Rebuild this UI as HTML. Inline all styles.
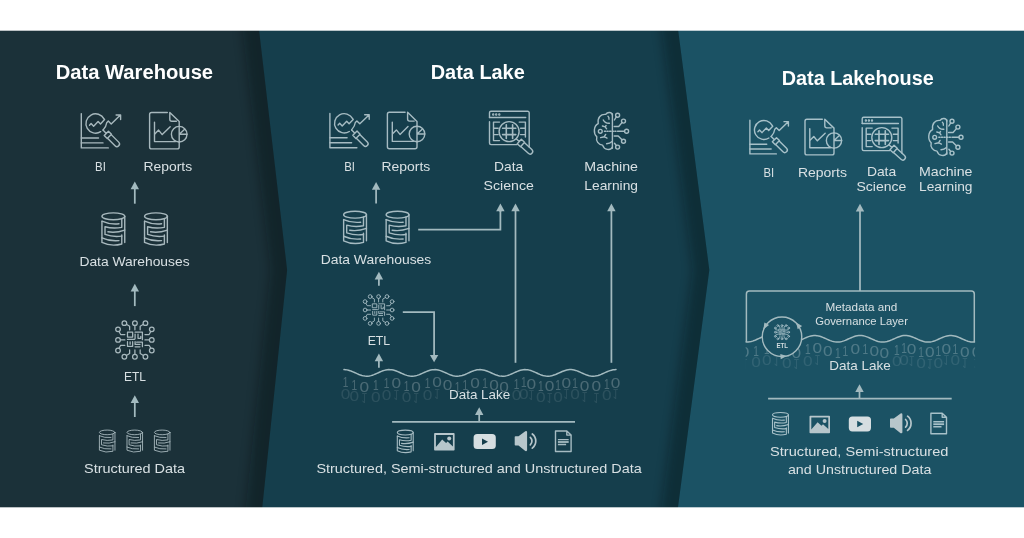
<!DOCTYPE html>
<html lang="en"><head><meta charset="utf-8"><title>Data Warehouse, Data Lake, Data Lakehouse</title>
<style>html,body{margin:0;padding:0;background:#fff;}body{width:1024px;height:538px;overflow:hidden;}</style></head>
<body>
<svg width="1024" height="538" viewBox="0 0 1024 538" font-family="'Liberation Sans', sans-serif" style="display:block;will-change:transform;transform:translateZ(0)">

<defs>
<filter id="blur" x="-50%" y="-10%" width="200%" height="120%"><feGaussianBlur stdDeviation="5.5"/></filter>
<linearGradient id="fade" x1="0" y1="0" x2="0" y2="1"><stop offset="0" stop-color="#fff" stop-opacity="0.16"/><stop offset="1" stop-color="#fff" stop-opacity="0"/></linearGradient>

<g id="bi" opacity="0.72" fill="none" stroke="#deecf0" stroke-linecap="round" stroke-linejoin="round">
 <path d="M5.3 5.6 V39.9 H32.3"/>
 <path d="M5.3 30 H22.5 M5.3 34.9 H27"/>
 <path d="M24.7 23.7 A9.65 9.65 0 1 1 28.2 11.1"/>
 <path d="M13.5 17.2 L15.1 15.5 L17.6 18.2 L22.1 13.5 L24.5 16 L28.6 11.6"/>
 <path d="M27 22.1 Q30.3 18.5 30.7 14.7 L32.3 13.1 L35.2 16 L44.4 7.1 M40.1 7 H44.6 V11.5"/>
 <g transform="translate(27 22.1) rotate(45)">
  <path d="M0 0 H4.7 M4.7 -3 H9 V3 H4.7 Z M9 -2.6 H19.6 A2.6 2.6 0 0 1 19.6 2.6 H9"/>
 </g>
</g>

<g id="rep" opacity="0.72" fill="none" stroke="#deecf0" stroke-linecap="round" stroke-linejoin="round">
 <path d="M23.3 4.5 H7.6 a2 2 0 0 0 -2 2 V38.9 a2 2 0 0 0 2 2 H33.2 a2 2 0 0 0 2 -2 V34"/>
 <path d="M35.2 18.4 V13.6 L25.8 4.5 V11.3 a2 2 0 0 0 2 2 H32.4"/>
 <path d="M10.5 14.3 V33.6 H31.5"/>
 <path d="M11 25.8 L14.6 22.1 L18.2 26.6 L26.2 18.8"/>
 <circle cx="35.2" cy="26.2" r="7.8"/>
 <path d="M35.2 18.4 V34 M35.2 26.2 H43 M35.2 26.2 L40.4 21.4"/>
</g>

<g id="ds" opacity="0.72" fill="none" stroke="#deecf0" stroke-linecap="round" stroke-linejoin="round">
 <path d="M33.1 38.6 H7 a1.5 1.5 0 0 1 -1.5 -1.5 V15.8 M5.5 11.5 V6.7 a1.5 1.5 0 0 1 1.5 -1.5 H43.7 a1.5 1.5 0 0 1 1.5 1.5 V41"/>
 <path d="M5.5 11.5 H41.7"/>
 <circle cx="9.2" cy="8.5" r="0.5"/><circle cx="12.2" cy="8.5" r="0.5"/><circle cx="15.3" cy="8.5" r="0.5"/>
 <path d="M15.5 16.1 H9.5 V34.6 H15.5 M9.5 22.3 H14.2 M9.5 28.6 H14.2"/>
 <path d="M35.2 16.1 H41.4 V31 M36.6 22.3 H41.4 M36.6 28.6 H41.4"/>
 <circle cx="25.1" cy="25.6" r="10"/>
 <path d="M22.3 18.8 V32.4 M28.6 18.8 V32.4 M18.6 22.3 H31.8 M18.6 28.6 H31.8" stroke-width="1.6"/>
 <g transform="translate(32.2 32.7) rotate(42.5)">
  <path d="M0 0 H4.2 M4.2 -3 H8.6 V3 H4.2 Z M8.6 -2.6 H18.8 A2.6 2.6 0 0 1 18.8 2.6 H8.6"/>
 </g>
</g>

<g id="ml" opacity="0.72" fill="none" stroke="#deecf0" stroke-linecap="round" stroke-linejoin="round">
 <path d="M24.4 7.9 V42.3"/>
 <path d="M24.4 9 C24 6 19.5 5.6 17.7 8.4 C13 7.8 9.2 11.5 10.2 17.7 C5.5 20 5.2 27.5 8.8 30.7 C7.6 35 10.5 38.8 14.6 39.1 C16 43.8 22.5 45.2 24.4 41"/>
 <circle cx="29.6" cy="9.3" r="2"/><circle cx="35.5" cy="15.1" r="2"/><circle cx="38.6" cy="25.3" r="2"/><circle cx="35.5" cy="35.3" r="2"/><circle cx="29.6" cy="41.1" r="2"/>
 <circle cx="12.3" cy="25.3" r="1.9"/>
 <path d="M28.3 10.9 L26.4 14 M34 16.6 L30.7 20.5 H26.2 M36.5 25.3 H29.5 M34 33.8 L30.2 30 H26.2 M28.3 39.5 L26.5 37.2"/>
 <path d="M28 25.3 H15" stroke-dasharray="1.2 1.4"/>
 <path d="M15.3 14 Q17 17.5 21.4 17.2 M20 10.2 Q21.4 11.5 20.9 13.2 M14.4 20 L17.2 20.9 L18.6 22.8 M17.2 20.9 L18.1 19.5 M12.6 31.6 L16.3 30.7 L19 32.1 M16.3 30.7 L17.7 28.4 M18.6 37.7 Q22 37.5 23.7 35.8"/>
</g>

<g id="db" opacity="0.72" fill="none" stroke="#deecf0" stroke-linecap="round" stroke-linejoin="round">
 <ellipse cx="12.15" cy="3.9" rx="11.7" ry="3.5"/>
 <path d="M23.85 3.9 V30.7"/>
 <path d="M0.45 8.9 V30.7 Q10 35.3 20.8 32.3 V22.9"/>
 <path d="M0.45 8.9 Q8 12.5 17.9 11.6"/>
 <path d="M20.8 6.3 V15.2 Q12 17 3.6 14.6 V22.5 Q12 25.5 20.8 24.2"/>
 <path d="M23.85 18 Q15 21.2 6.6 19.8"/>
 <path d="M0.45 26 Q8 29.6 17.9 28.8"/>
</g>

<g id="etl" opacity="0.72" fill="none" stroke="#deecf0" stroke-linecap="round" stroke-linejoin="round">
 <circle cx="-10.8" cy="-17.2" r="2.4"/><circle cx="0" cy="-17.2" r="2.4"/><circle cx="10.8" cy="-17.2" r="2.4"/>
 <circle cx="-10.8" cy="17.2" r="2.4"/><circle cx="0" cy="17.2" r="2.4"/><circle cx="10.8" cy="17.2" r="2.4"/>
 <circle cx="-17.3" cy="-10.8" r="2.4"/><circle cx="-17.3" cy="0" r="2.4"/><circle cx="-17.3" cy="10.8" r="2.4"/>
 <circle cx="17.3" cy="-10.8" r="2.4"/><circle cx="17.3" cy="0" r="2.4"/><circle cx="17.3" cy="10.8" r="2.4"/>
 <path d="M-8.7 -16 L-5.4 -14 V-10.3 M0 -14.8 V-10.3 M8.7 -16 L5.4 -14 V-10.3"/>
 <path d="M-8.7 16 L-5.4 14 V10.3 M0 14.8 V10.3 M8.7 16 L5.4 14 V10.3"/>
 <path d="M-16.3 -8.6 L-14.6 -5.5 H-10.3 M-14.9 0 H-10.3 M-16.3 8.6 L-14.6 5.5 H-10.3"/>
 <path d="M16.3 -8.6 L14.6 -5.5 H10.3 M14.9 0 H10.3 M16.3 8.6 L14.6 5.5 H10.3"/>
 <path d="M-7.6 -7.9 H-2.3 V-2.9 H-7.6 Z M0.2 -7.9 H7.7 V-0.2 M3.2 -6 V-1.6 H6 V-3.7 M0.2 -6 V-1.8 Q0.2 -0.5 -1.1 -0.5 H-7.6 M-7.6 1.8 V6.6 H-2.3 V1.8 M-4.9 2 V4.4 M0.2 1.8 V4.6 H5.2 M1.8 2.4 H7.7 V6.9 M0.2 7.1 H5.2"/>
</g>

<g id="img">
 <path fill="#b7c6cb" fill-rule="evenodd" d="M0.8 0 H19.7 a0.8 0.8 0 0 1 0.8 0.8 V16.7 a0.8 0.8 0 0 1 -0.8 0.8 H0.8 a0.8 0.8 0 0 1 -0.8 -0.8 V0.8 a0.8 0.8 0 0 1 0.8 -0.8 Z M1.8 1.8 V13.9 L8.1 6.5 L12 10 L13.5 8.5 L18.8 13.4 V1.8 Z"/>
 <circle cx="15.1" cy="5.3" r="2" fill="#b7c6cb"/>
</g>

<g id="vid">
 <rect x="0" y="0" width="22.2" height="15" rx="3.6" fill="#d6dee1"/>
</g>

<g id="spk">
 <path fill="#b7c6cb" d="M0 6 a0.8 0.8 0 0 1 0.8 -0.8 L3.8 5.2 L10.6 0.2 Q12.4 -0.3 12.4 1.2 V19 Q12.4 20.5 10.6 20 L3.8 14.6 H0.8 a0.8 0.8 0 0 1 -0.8 -0.8 Z"/>
 <path fill="none" stroke="#b7c6cb" stroke-width="1.7" stroke-linecap="round" d="M15.6 6.3 A5.2 5.2 0 0 1 15.6 13.9 M17.6 3 A9 9 0 0 1 17.6 17.2"/>
</g>

<g id="doc" opacity="0.72" fill="none" stroke="#deecf0" stroke-linejoin="round">
 <path d="M0.6 0.6 H11.9 L16.2 4.7 V21.1 H0.6 Z M11.9 0.6 V4.7 H16.2"/>
 <path d="M3 9.2 H13.8 M3 14.1 H11.2"/>
 <path d="M3 11.6 H13.8" stroke-width="1.8"/>
</g>
</defs>

<rect width="1024" height="538" fill="#fff"/>
<rect x="0" y="20" width="1024" height="497" fill="#153e4c"/>
<polygon points="676.8,20 678.2,30.7 709.3,270 678,507 676.7,517 1024,517 1024,20" fill="#1b5264"/>
<clipPath id="cpA"><polygon points="0,20 257.85,20 259.1,30.7 287.1,270 262.3,507 261.25,517 0,517"/></clipPath>
<clipPath id="cpB"><polygon points="300,20 676.8,20 678.2,30.7 709.3,270 678,507 676.7,517 300,517"/></clipPath>
<g clip-path="url(#cpB)"><polygon points="660.30,20 661.70,30.7 692.80,270 661.50,507 660.20,517 800,517 800,600 800,-60" fill="#000a10" opacity="0.32" filter="url(#blur)"/></g>
<polygon points="0,20 257.85,20 259.1,30.7 287.1,270 262.3,507 261.25,517 0,517" fill="#1b3139"/>
<g clip-path="url(#cpA)"><polygon points="241.35,20 242.60,30.7 270.60,270 245.80,507 244.75,517 400,517 400,600 400,-60" fill="#000a10" opacity="0.33" filter="url(#blur)"/></g>
<rect x="0" y="0" width="1024" height="30.7" fill="#fff"/>
<rect x="0" y="507.3" width="1024" height="31" fill="#fff"/>
<text x="55.70" y="79.0" font-size="19.5" font-weight="bold" fill="#fff" textLength="157.41" lengthAdjust="spacingAndGlyphs">Data Warehouse</text>
<g transform="translate(76.00 108.00) scale(1.0000)" stroke-width="1.400"><use href="#bi"/></g>
<g transform="translate(144.00 108.00) scale(1.0000)" stroke-width="1.400"><use href="#rep"/></g>
<text x="95.10" y="171.0" font-size="13.3" font-weight="normal" fill="#d8e0e3" textLength="10.80" lengthAdjust="spacingAndGlyphs">BI</text>
<text x="143.50" y="171.0" font-size="13.3" font-weight="normal" fill="#d8e0e3" textLength="48.61" lengthAdjust="spacingAndGlyphs">Reports</text>
<path d="M134.8 203.7 V188.7" stroke="#a3babf" stroke-width="1.75" fill="none"/>
<path d="M134.8 181.4 L139.0 189.2 H130.6 Z" fill="#a3babf"/>
<g transform="translate(101.50 212.50) scale(0.9750)" stroke-width="1.436"><use href="#db"/></g>
<g transform="translate(144.10 212.50) scale(0.9750)" stroke-width="1.436"><use href="#db"/></g>
<text x="79.40" y="266.0" font-size="13.3" font-weight="normal" fill="#d8e0e3" textLength="110.20" lengthAdjust="spacingAndGlyphs">Data Warehouses</text>
<path d="M134.8 306.1 V291.0" stroke="#a3babf" stroke-width="1.75" fill="none"/>
<path d="M134.8 283.7 L139.0 291.5 H130.6 Z" fill="#a3babf"/>
<g transform="translate(134.90 339.90) scale(0.9750)" stroke-width="1.282"><use href="#etl"/></g>
<text x="124.00" y="381.0" font-size="13.3" font-weight="normal" fill="#d8e0e3" textLength="22.00" lengthAdjust="spacingAndGlyphs">ETL</text>
<path d="M134.8 417.0 V402.6" stroke="#a3babf" stroke-width="1.75" fill="none"/>
<path d="M134.8 395.3 L139.0 403.1 H130.6 Z" fill="#a3babf"/>
<g transform="translate(99.10 429.80) scale(0.6650)" stroke-width="1.353"><use href="#db"/></g>
<g transform="translate(126.70 429.80) scale(0.6650)" stroke-width="1.353"><use href="#db"/></g>
<g transform="translate(154.10 429.80) scale(0.6650)" stroke-width="1.353"><use href="#db"/></g>
<text x="84.00" y="473.0" font-size="13.3" font-weight="normal" fill="#d8e0e3" textLength="101.09" lengthAdjust="spacingAndGlyphs">Structured Data</text>
<text x="430.70" y="79.0" font-size="19.5" font-weight="bold" fill="#fff" textLength="94.09" lengthAdjust="spacingAndGlyphs">Data Lake</text>
<g transform="translate(324.60 107.80) scale(1.0000)" stroke-width="1.400"><use href="#bi"/></g>
<g transform="translate(381.80 107.80) scale(1.0000)" stroke-width="1.400"><use href="#rep"/></g>
<text x="344.20" y="171.0" font-size="13.3" font-weight="normal" fill="#d8e0e3" textLength="10.80" lengthAdjust="spacingAndGlyphs">BI</text>
<text x="381.50" y="171.0" font-size="13.3" font-weight="normal" fill="#d8e0e3" textLength="48.81" lengthAdjust="spacingAndGlyphs">Reports</text>
<g transform="translate(484.00 106.00) scale(1.0000)" stroke-width="1.400"><use href="#ds"/></g>
<text x="494.10" y="171.0" font-size="13.3" font-weight="normal" fill="#d8e0e3" textLength="29.19" lengthAdjust="spacingAndGlyphs">Data</text>
<text x="483.60" y="190.0" font-size="13.3" font-weight="normal" fill="#d8e0e3" textLength="50.29" lengthAdjust="spacingAndGlyphs">Science</text>
<g transform="translate(588.00 106.00) scale(1.0000)" stroke-width="1.400"><use href="#ml"/></g>
<text x="584.30" y="171.0" font-size="13.3" font-weight="normal" fill="#d8e0e3" textLength="53.70" lengthAdjust="spacingAndGlyphs">Machine</text>
<text x="584.30" y="190.0" font-size="13.3" font-weight="normal" fill="#d8e0e3" textLength="53.70" lengthAdjust="spacingAndGlyphs">Learning</text>
<path d="M376.1 203.5 V189.3" stroke="#a3babf" stroke-width="1.75" fill="none"/>
<path d="M376.1 182.0 L380.3 189.8 H371.9 Z" fill="#a3babf"/>
<g transform="translate(343.20 210.90) scale(0.9750)" stroke-width="1.436"><use href="#db"/></g>
<g transform="translate(385.70 210.90) scale(0.9750)" stroke-width="1.436"><use href="#db"/></g>
<path d="M418.2 229.7 H500.4 V211" stroke="#a3babf" stroke-width="1.75" fill="none"/>
<path d="M500.4 212.0 V210.8" stroke="#a3babf" stroke-width="1.75" fill="none"/>
<path d="M500.4 203.5 L504.6 211.3 H496.2 Z" fill="#a3babf"/>
<path d="M515.5 362.8 V210.8" stroke="#a3babf" stroke-width="1.75" fill="none"/>
<path d="M515.5 203.5 L519.7 211.3 H511.3 Z" fill="#a3babf"/>
<path d="M611.4 362.8 V210.8" stroke="#a3babf" stroke-width="1.75" fill="none"/>
<path d="M611.4 203.5 L615.6 211.3 H607.2 Z" fill="#a3babf"/>
<text x="320.70" y="264.0" font-size="13.3" font-weight="normal" fill="#d8e0e3" textLength="110.60" lengthAdjust="spacingAndGlyphs">Data Warehouses</text>
<path d="M378.9 285.7 V279.1" stroke="#a3babf" stroke-width="1.75" fill="none"/>
<path d="M378.9 271.8 L383.1 279.6 H374.7 Z" fill="#a3babf"/>
<g transform="translate(378.60 310.00) scale(0.7800)" stroke-width="1.154"><use href="#etl"/></g>
<path d="M402.8 312.1 H434.1 V356" stroke="#a3babf" stroke-width="1.75" fill="none"/>
<path d="M434.1 362.2 L438.3 354.9 H429.9 Z" fill="#a3babf"/>
<text x="367.70" y="345.0" font-size="13.3" font-weight="normal" fill="#d8e0e3" textLength="22.50" lengthAdjust="spacingAndGlyphs">ETL</text>
<path d="M378.9 367.8 V360.7" stroke="#a3babf" stroke-width="1.75" fill="none"/>
<path d="M378.9 353.4 L383.1 361.2 H374.7 Z" fill="#a3babf"/>
<g>
<g font-size="15" fill="rgba(255,255,255,0.23)"><text x="342.70" y="387.25" textLength="5.60" lengthAdjust="spacingAndGlyphs">1</text><text x="351.50" y="389.60" textLength="5.60" lengthAdjust="spacingAndGlyphs">1</text><text x="359.50" y="391.59" textLength="9.60" lengthAdjust="spacingAndGlyphs">0</text><text x="373.00" y="389.92" textLength="5.60" lengthAdjust="spacingAndGlyphs">1</text><text x="383.70" y="387.96" textLength="5.60" lengthAdjust="spacingAndGlyphs">1</text><text x="391.50" y="388.41" textLength="9.60" lengthAdjust="spacingAndGlyphs">0</text><text x="403.70" y="390.83" textLength="5.60" lengthAdjust="spacingAndGlyphs">1</text><text x="411.20" y="391.68" textLength="9.60" lengthAdjust="spacingAndGlyphs">0</text><text x="424.70" y="388.44" textLength="5.60" lengthAdjust="spacingAndGlyphs">1</text><text x="432.20" y="387.32" textLength="9.60" lengthAdjust="spacingAndGlyphs">0</text><text x="442.70" y="390.36" textLength="9.60" lengthAdjust="spacingAndGlyphs">0</text><text x="454.80" y="391.70" textLength="5.60" lengthAdjust="spacingAndGlyphs">1</text><text x="462.40" y="390.25" textLength="5.60" lengthAdjust="spacingAndGlyphs">1</text><text x="470.30" y="388.25" textLength="9.60" lengthAdjust="spacingAndGlyphs">0</text><text x="482.20" y="388.00" textLength="5.60" lengthAdjust="spacingAndGlyphs">1</text><text x="489.20" y="390.09" textLength="9.60" lengthAdjust="spacingAndGlyphs">0</text><text x="499.20" y="391.96" textLength="9.60" lengthAdjust="spacingAndGlyphs">0</text><text x="513.70" y="388.85" textLength="5.60" lengthAdjust="spacingAndGlyphs">1</text><text x="521.00" y="387.24" textLength="5.60" lengthAdjust="spacingAndGlyphs">1</text><text x="526.50" y="388.51" textLength="9.60" lengthAdjust="spacingAndGlyphs">0</text><text x="538.10" y="390.80" textLength="5.60" lengthAdjust="spacingAndGlyphs">1</text><text x="544.80" y="391.34" textLength="9.60" lengthAdjust="spacingAndGlyphs">0</text><text x="555.20" y="390.24" textLength="5.60" lengthAdjust="spacingAndGlyphs">1</text><text x="561.40" y="387.86" textLength="9.60" lengthAdjust="spacingAndGlyphs">0</text><text x="572.30" y="387.61" textLength="5.60" lengthAdjust="spacingAndGlyphs">1</text><text x="579.70" y="390.66" textLength="9.60" lengthAdjust="spacingAndGlyphs">0</text><text x="591.60" y="391.49" textLength="9.60" lengthAdjust="spacingAndGlyphs">0</text><text x="604.00" y="388.63" textLength="5.60" lengthAdjust="spacingAndGlyphs">1</text><text x="610.80" y="387.80" textLength="9.60" lengthAdjust="spacingAndGlyphs">0</text></g>
<g font-size="15" fill="rgba(255,255,255,0.10)" transform="scale(1 -1)"><text x="340.70" y="-388.85" textLength="9.60" lengthAdjust="spacingAndGlyphs">0</text><text x="349.50" y="-391.20" textLength="9.60" lengthAdjust="spacingAndGlyphs">0</text><text x="361.50" y="-393.19" textLength="5.60" lengthAdjust="spacingAndGlyphs">1</text><text x="371.00" y="-391.52" textLength="9.60" lengthAdjust="spacingAndGlyphs">0</text><text x="381.70" y="-389.56" textLength="9.60" lengthAdjust="spacingAndGlyphs">0</text><text x="393.50" y="-390.01" textLength="5.60" lengthAdjust="spacingAndGlyphs">1</text><text x="401.70" y="-392.43" textLength="9.60" lengthAdjust="spacingAndGlyphs">0</text><text x="413.20" y="-393.28" textLength="5.60" lengthAdjust="spacingAndGlyphs">1</text><text x="422.70" y="-390.04" textLength="9.60" lengthAdjust="spacingAndGlyphs">0</text><text x="434.20" y="-388.92" textLength="5.60" lengthAdjust="spacingAndGlyphs">1</text><text x="511.70" y="-390.45" textLength="9.60" lengthAdjust="spacingAndGlyphs">0</text><text x="519.00" y="-388.84" textLength="9.60" lengthAdjust="spacingAndGlyphs">0</text><text x="528.50" y="-390.11" textLength="5.60" lengthAdjust="spacingAndGlyphs">1</text><text x="536.10" y="-392.40" textLength="9.60" lengthAdjust="spacingAndGlyphs">0</text><text x="546.80" y="-392.94" textLength="5.60" lengthAdjust="spacingAndGlyphs">1</text><text x="553.20" y="-391.84" textLength="9.60" lengthAdjust="spacingAndGlyphs">0</text><text x="563.40" y="-389.46" textLength="5.60" lengthAdjust="spacingAndGlyphs">1</text><text x="570.30" y="-389.21" textLength="9.60" lengthAdjust="spacingAndGlyphs">0</text><text x="581.70" y="-392.26" textLength="5.60" lengthAdjust="spacingAndGlyphs">1</text><text x="593.60" y="-393.09" textLength="5.60" lengthAdjust="spacingAndGlyphs">1</text><text x="602.00" y="-390.23" textLength="9.60" lengthAdjust="spacingAndGlyphs">0</text><text x="612.80" y="-389.40" textLength="5.60" lengthAdjust="spacingAndGlyphs">1</text></g>
<path d="M344.0 369.60 L345.5 369.67 L347.0 369.88 L348.5 370.22 L350.0 370.67 L351.5 371.22 L353.0 371.84 L354.5 372.51 L356.0 373.19 L357.5 373.86 L358.9 374.49 L360.4 375.05 L361.9 375.52 L363.4 375.88 L364.9 376.11 L366.4 376.20 L367.9 376.15 L369.4 375.96 L370.9 375.64 L372.4 375.21 L373.9 374.67 L375.4 374.06 L376.9 373.40 L378.4 372.72 L379.9 372.04 L381.4 371.41 L382.9 370.83 L384.4 370.35 L385.8 369.97 L387.3 369.72 L388.8 369.61 L390.3 369.63 L391.8 369.80 L393.3 370.10 L394.8 370.52 L396.3 371.04 L397.8 371.64 L399.3 372.30 L400.8 372.98 L402.3 373.65 L403.8 374.30 L405.3 374.88 L406.8 375.38 L408.3 375.78 L409.8 376.05 L411.3 376.18 L412.7 376.18 L414.2 376.03 L415.7 375.76 L417.2 375.35 L418.7 374.85 L420.2 374.26 L421.7 373.61 L423.2 372.93 L424.7 372.25 L426.2 371.60 L427.7 371.00 L429.2 370.49 L430.7 370.08 L432.2 369.78 L433.7 369.63 L435.2 369.61 L436.7 369.73 L438.2 369.99 L439.6 370.38 L441.1 370.87 L442.6 371.45 L444.1 372.09 L445.6 372.76 L447.1 373.44 L448.6 374.10 L450.1 374.71 L451.6 375.24 L453.1 375.67 L454.6 375.98 L456.1 376.16 L457.6 376.20 L459.1 376.09 L460.6 375.86 L462.1 375.49 L463.6 375.01 L465.1 374.45 L466.5 373.81 L468.0 373.14 L469.5 372.46 L471.0 371.80 L472.5 371.18 L474.0 370.64 L475.5 370.19 L477.0 369.86 L478.5 369.66 L480.0 369.60 L481.5 369.68 L483.0 369.90 L484.5 370.24 L486.0 370.70 L487.5 371.26 L489.0 371.88 L490.5 372.55 L492.0 373.23 L493.5 373.90 L494.9 374.53 L496.4 375.08 L497.9 375.55 L499.4 375.90 L500.9 376.12 L502.4 376.20 L503.9 376.14 L505.4 375.94 L506.9 375.62 L508.4 375.17 L509.9 374.63 L511.4 374.02 L512.9 373.35 L514.4 372.67 L515.9 372.00 L517.4 371.37 L518.9 370.80 L520.4 370.32 L521.8 369.95 L523.3 369.71 L524.8 369.60 L526.3 369.64 L527.8 369.82 L529.3 370.12 L530.8 370.55 L532.3 371.08 L533.8 371.68 L535.3 372.34 L536.8 373.02 L538.3 373.70 L539.8 374.34 L541.3 374.92 L542.8 375.41 L544.3 375.80 L545.8 376.06 L547.3 376.19 L548.7 376.17 L550.2 376.02 L551.7 375.73 L553.2 375.32 L554.7 374.81 L556.2 374.22 L557.7 373.56 L559.2 372.88 L560.7 372.21 L562.2 371.56 L563.7 370.97 L565.2 370.46 L566.7 370.05 L568.2 369.77 L569.7 369.62 L571.2 369.61 L572.7 369.75 L574.2 370.01 L575.6 370.41 L577.1 370.90 L578.6 371.49 L580.1 372.13 L581.6 372.81 L583.1 373.49 L584.6 374.15 L586.1 374.75 L587.6 375.27 L589.1 375.69 L590.6 375.99 L592.1 376.16 L593.6 376.19 L595.1 376.08 L596.6 375.84 L598.1 375.46 L599.6 374.98 L601.1 374.41 L602.5 373.77 L604.0 373.10 L605.5 372.42 L607.0 371.75 L608.5 371.14 L610.0 370.60 L611.5 370.17 L613.0 369.84 L614.5 369.65 L616.0 369.60" stroke="#a3babf" stroke-width="1.5" fill="none" stroke-linecap="round"/>
</g>
<text x="449.10" y="399.0" font-size="13.3" font-weight="normal" fill="#d8e0e3" textLength="61.09" lengthAdjust="spacingAndGlyphs">Data Lake</text>
<path d="M392.1 421.9 H575" stroke="#a3babf" stroke-width="1.75" fill="none"/>
<path d="M479.2 421.9 V414.5" stroke="#a3babf" stroke-width="1.75" fill="none"/>
<path d="M479.2 407.2 L483.4 415.0 H475.0 Z" fill="#a3babf"/>
<g transform="translate(397.00 429.90) scale(0.6800)" stroke-width="1.618"><use href="#db"/></g>
<g transform="translate(434.10 433.10) scale(1.0000)" stroke-width="1.400"><use href="#img"/></g>
<g transform="translate(473.60 434.10) scale(1.0000)" stroke-width="1.400"><use href="#vid"/></g>
<path d="M482 438.4 V445 L488 441.7 Z" fill="#153e4c"/>
<g transform="translate(514.70 431.00) scale(1.0000)" stroke-width="1.400"><use href="#spk"/></g>
<g transform="translate(554.90 430.40) scale(1.0000)" stroke-width="1.400"><use href="#doc"/></g>
<text x="316.40" y="473.0" font-size="13.3" font-weight="normal" fill="#d8e0e3" textLength="325.39" lengthAdjust="spacingAndGlyphs">Structured, Semi-structured and Unstructured Data</text>
<text x="781.70" y="85.0" font-size="19.5" font-weight="bold" fill="#fff" textLength="152.11" lengthAdjust="spacingAndGlyphs">Data Lakehouse</text>
<g transform="translate(744.70 114.80) scale(0.9800)" stroke-width="1.429"><use href="#bi"/></g>
<g transform="translate(799.50 114.80) scale(0.9800)" stroke-width="1.429"><use href="#rep"/></g>
<g transform="translate(856.70 112.00) scale(1.0000)" stroke-width="1.400"><use href="#ds"/></g>
<g transform="translate(922.40 112.00) scale(1.0000)" stroke-width="1.400"><use href="#ml"/></g>
<text x="763.50" y="177.0" font-size="13.3" font-weight="normal" fill="#d8e0e3" textLength="10.70" lengthAdjust="spacingAndGlyphs">BI</text>
<text x="797.90" y="177.0" font-size="13.3" font-weight="normal" fill="#d8e0e3" textLength="49.01" lengthAdjust="spacingAndGlyphs">Reports</text>
<text x="866.90" y="176.0" font-size="13.3" font-weight="normal" fill="#d8e0e3" textLength="29.29" lengthAdjust="spacingAndGlyphs">Data</text>
<text x="856.50" y="191.0" font-size="13.3" font-weight="normal" fill="#d8e0e3" textLength="49.89" lengthAdjust="spacingAndGlyphs">Science</text>
<text x="919.00" y="176.0" font-size="13.3" font-weight="normal" fill="#d8e0e3" textLength="53.50" lengthAdjust="spacingAndGlyphs">Machine</text>
<text x="919.00" y="191.0" font-size="13.3" font-weight="normal" fill="#d8e0e3" textLength="53.50" lengthAdjust="spacingAndGlyphs">Learning</text>
<path d="M860.0 291.0 V211.1" stroke="#a3babf" stroke-width="1.75" fill="none"/>
<path d="M860.0 203.8 L864.2 211.6 H855.8 Z" fill="#a3babf"/>
<clipPath id="cpL"><rect x="745.6" y="320" width="229.5" height="60"/></clipPath>
<g clip-path="url(#cpL)">
<g font-size="15" fill="rgba(255,255,255,0.23)"><text x="722.90" y="353.15" textLength="5.60" lengthAdjust="spacingAndGlyphs">1</text><text x="731.70" y="355.50" textLength="5.60" lengthAdjust="spacingAndGlyphs">1</text><text x="739.70" y="357.49" textLength="9.60" lengthAdjust="spacingAndGlyphs">0</text><text x="753.20" y="355.82" textLength="5.60" lengthAdjust="spacingAndGlyphs">1</text><text x="763.90" y="353.86" textLength="5.60" lengthAdjust="spacingAndGlyphs">1</text><text x="771.70" y="354.31" textLength="9.60" lengthAdjust="spacingAndGlyphs">0</text><text x="783.90" y="356.73" textLength="5.60" lengthAdjust="spacingAndGlyphs">1</text><text x="791.40" y="357.58" textLength="9.60" lengthAdjust="spacingAndGlyphs">0</text><text x="804.90" y="354.34" textLength="5.60" lengthAdjust="spacingAndGlyphs">1</text><text x="812.40" y="353.22" textLength="9.60" lengthAdjust="spacingAndGlyphs">0</text><text x="822.90" y="356.26" textLength="9.60" lengthAdjust="spacingAndGlyphs">0</text><text x="835.00" y="357.60" textLength="5.60" lengthAdjust="spacingAndGlyphs">1</text><text x="842.60" y="356.15" textLength="5.60" lengthAdjust="spacingAndGlyphs">1</text><text x="850.50" y="354.15" textLength="9.60" lengthAdjust="spacingAndGlyphs">0</text><text x="862.40" y="353.90" textLength="5.60" lengthAdjust="spacingAndGlyphs">1</text><text x="869.40" y="355.99" textLength="9.60" lengthAdjust="spacingAndGlyphs">0</text><text x="879.40" y="357.86" textLength="9.60" lengthAdjust="spacingAndGlyphs">0</text><text x="893.90" y="354.75" textLength="5.60" lengthAdjust="spacingAndGlyphs">1</text><text x="901.20" y="353.14" textLength="5.60" lengthAdjust="spacingAndGlyphs">1</text><text x="906.70" y="354.41" textLength="9.60" lengthAdjust="spacingAndGlyphs">0</text><text x="918.30" y="356.70" textLength="5.60" lengthAdjust="spacingAndGlyphs">1</text><text x="925.00" y="357.24" textLength="9.60" lengthAdjust="spacingAndGlyphs">0</text><text x="935.40" y="356.14" textLength="5.60" lengthAdjust="spacingAndGlyphs">1</text><text x="941.60" y="353.76" textLength="9.60" lengthAdjust="spacingAndGlyphs">0</text><text x="952.50" y="353.51" textLength="5.60" lengthAdjust="spacingAndGlyphs">1</text><text x="959.90" y="356.56" textLength="9.60" lengthAdjust="spacingAndGlyphs">0</text><text x="971.80" y="357.39" textLength="9.60" lengthAdjust="spacingAndGlyphs">0</text><text x="984.20" y="354.53" textLength="5.60" lengthAdjust="spacingAndGlyphs">1</text><text x="991.00" y="353.70" textLength="9.60" lengthAdjust="spacingAndGlyphs">0</text></g>
<g font-size="15" fill="rgba(255,255,255,0.10)" transform="scale(1 -1)"><text x="720.90" y="-354.75" textLength="9.60" lengthAdjust="spacingAndGlyphs">0</text><text x="729.70" y="-357.10" textLength="9.60" lengthAdjust="spacingAndGlyphs">0</text><text x="741.70" y="-359.09" textLength="5.60" lengthAdjust="spacingAndGlyphs">1</text><text x="751.20" y="-357.42" textLength="9.60" lengthAdjust="spacingAndGlyphs">0</text><text x="761.90" y="-355.46" textLength="9.60" lengthAdjust="spacingAndGlyphs">0</text><text x="773.70" y="-355.91" textLength="5.60" lengthAdjust="spacingAndGlyphs">1</text><text x="781.90" y="-358.33" textLength="9.60" lengthAdjust="spacingAndGlyphs">0</text><text x="793.40" y="-359.18" textLength="5.60" lengthAdjust="spacingAndGlyphs">1</text><text x="802.90" y="-355.94" textLength="9.60" lengthAdjust="spacingAndGlyphs">0</text><text x="814.40" y="-354.82" textLength="5.60" lengthAdjust="spacingAndGlyphs">1</text><text x="891.90" y="-356.35" textLength="9.60" lengthAdjust="spacingAndGlyphs">0</text><text x="899.20" y="-354.74" textLength="9.60" lengthAdjust="spacingAndGlyphs">0</text><text x="908.70" y="-356.01" textLength="5.60" lengthAdjust="spacingAndGlyphs">1</text><text x="916.30" y="-358.30" textLength="9.60" lengthAdjust="spacingAndGlyphs">0</text><text x="927.00" y="-358.84" textLength="5.60" lengthAdjust="spacingAndGlyphs">1</text><text x="933.40" y="-357.74" textLength="9.60" lengthAdjust="spacingAndGlyphs">0</text><text x="943.60" y="-355.36" textLength="5.60" lengthAdjust="spacingAndGlyphs">1</text><text x="950.50" y="-355.11" textLength="9.60" lengthAdjust="spacingAndGlyphs">0</text><text x="961.90" y="-358.16" textLength="5.60" lengthAdjust="spacingAndGlyphs">1</text><text x="973.80" y="-358.99" textLength="5.60" lengthAdjust="spacingAndGlyphs">1</text><text x="982.20" y="-356.13" textLength="9.60" lengthAdjust="spacingAndGlyphs">0</text><text x="993.00" y="-355.30" textLength="5.60" lengthAdjust="spacingAndGlyphs">1</text></g>
<path d="M724.2 335.50 L725.7 335.57 L727.2 335.78 L728.7 336.12 L730.2 336.57 L731.7 337.12 L733.2 337.74 L734.7 338.41 L736.2 339.09 L737.7 339.76 L739.1 340.39 L740.6 340.95 L742.1 341.42 L743.6 341.78 L745.1 342.01 L746.6 342.10 L748.1 342.05 L749.6 341.86 L751.1 341.54 L752.6 341.11 L754.1 340.57 L755.6 339.96 L757.1 339.30 L758.6 338.62 L760.1 337.94 L761.6 337.31 L763.1 336.73 L764.6 336.25 L766.0 335.87 L767.5 335.62 L769.0 335.51 L770.5 335.53 L772.0 335.70 L773.5 336.00 L775.0 336.42 L776.5 336.94 L778.0 337.54 L779.5 338.20 L781.0 338.88 L782.5 339.55 L784.0 340.20 L785.5 340.78 L787.0 341.28 L788.5 341.68 L790.0 341.95 L791.5 342.08 L792.9 342.08 L794.4 341.93 L795.9 341.66 L797.4 341.25 L798.9 340.75 L800.4 340.16 L801.9 339.51 L803.4 338.83 L804.9 338.15 L806.4 337.50 L807.9 336.90 L809.4 336.39 L810.9 335.98 L812.4 335.68 L813.9 335.53 L815.4 335.51 L816.9 335.63 L818.4 335.89 L819.8 336.28 L821.3 336.77 L822.8 337.35 L824.3 337.99 L825.8 338.66 L827.3 339.34 L828.8 340.00 L830.3 340.61 L831.8 341.14 L833.3 341.57 L834.8 341.88 L836.3 342.06 L837.8 342.10 L839.3 341.99 L840.8 341.76 L842.3 341.39 L843.8 340.91 L845.3 340.35 L846.7 339.71 L848.2 339.04 L849.7 338.36 L851.2 337.70 L852.7 337.08 L854.2 336.54 L855.7 336.09 L857.2 335.76 L858.7 335.56 L860.2 335.50 L861.7 335.58 L863.2 335.80 L864.7 336.14 L866.2 336.60 L867.7 337.16 L869.2 337.78 L870.7 338.45 L872.2 339.13 L873.7 339.80 L875.1 340.43 L876.6 340.98 L878.1 341.45 L879.6 341.80 L881.1 342.02 L882.6 342.10 L884.1 342.04 L885.6 341.84 L887.1 341.52 L888.6 341.07 L890.1 340.53 L891.6 339.92 L893.1 339.25 L894.6 338.57 L896.1 337.90 L897.6 337.27 L899.1 336.70 L900.6 336.22 L902.0 335.85 L903.5 335.61 L905.0 335.50 L906.5 335.54 L908.0 335.72 L909.5 336.02 L911.0 336.45 L912.5 336.98 L914.0 337.58 L915.5 338.24 L917.0 338.92 L918.5 339.60 L920.0 340.24 L921.5 340.82 L923.0 341.31 L924.5 341.70 L926.0 341.96 L927.5 342.09 L928.9 342.07 L930.4 341.92 L931.9 341.63 L933.4 341.22 L934.9 340.71 L936.4 340.12 L937.9 339.46 L939.4 338.78 L940.9 338.11 L942.4 337.46 L943.9 336.87 L945.4 336.36 L946.9 335.95 L948.4 335.67 L949.9 335.52 L951.4 335.51 L952.9 335.65 L954.4 335.91 L955.8 336.31 L957.3 336.80 L958.8 337.39 L960.3 338.03 L961.8 338.71 L963.3 339.39 L964.8 340.05 L966.3 340.65 L967.8 341.17 L969.3 341.59 L970.8 341.89 L972.3 342.06 L973.8 342.09 L975.3 341.98 L976.8 341.74 L978.3 341.36 L979.8 340.88 L981.3 340.31 L982.7 339.67 L984.2 339.00 L985.7 338.32 L987.2 337.65 L988.7 337.04 L990.2 336.50 L991.7 336.07 L993.2 335.74 L994.7 335.55 L996.2 335.50" stroke="#a3babf" stroke-width="1.5" fill="none" stroke-linecap="round"/>
</g>
<path d="M746.4 341.9 V293.9 a3 3 0 0 1 3 -3 H971.3 a3 3 0 0 1 3 3 V341.9" stroke="#a3babf" stroke-width="1.5" fill="none"/>
<text x="825.60" y="311.0" font-size="10.5" font-weight="normal" fill="#d8e0e3" textLength="71.60" lengthAdjust="spacingAndGlyphs">Metadata and</text>
<text x="815.20" y="325.0" font-size="10.5" font-weight="normal" fill="#d8e0e3" textLength="92.70" lengthAdjust="spacingAndGlyphs">Governance Layer</text>
<circle cx="782.0" cy="336.7" r="19.75" fill="#1b5264" stroke="#a3babf" stroke-width="1.4"/>
<path d="M763.4 329.3 L764.4 322.4 L769.1 325.1 Z" fill="#a3babf"/>
<path d="M796.1 322.5 L802.1 326.1 L797.7 329.3 Z" fill="#a3babf"/>
<path d="M786.9 356.1 L780.7 359.3 L780.3 354.0 Z" fill="#a3babf"/>
<g transform="translate(782.00 332.20) scale(0.3850)" stroke-width="2.078"><use href="#etl"/></g>
<text x="776.40" y="348.0" font-size="6.6" font-weight="bold" fill="#d3dcdf" textLength="11.60" lengthAdjust="spacingAndGlyphs">ETL</text>
<text x="829.30" y="370.0" font-size="13.3" font-weight="normal" fill="#d8e0e3" textLength="61.39" lengthAdjust="spacingAndGlyphs">Data Lake</text>
<path d="M768.1 398.5 H951.7" stroke="#a3babf" stroke-width="1.75" fill="none"/>
<path d="M859.5 398.5 V391.6" stroke="#a3babf" stroke-width="1.75" fill="none"/>
<path d="M859.5 384.3 L863.7 392.1 H855.3 Z" fill="#a3babf"/>
<g transform="translate(772.20 412.20) scale(0.6800)" stroke-width="1.618"><use href="#db"/></g>
<g transform="translate(809.50 415.70) scale(1.0000)" stroke-width="1.400"><use href="#img"/></g>
<g transform="translate(848.80 416.40) scale(1.0000)" stroke-width="1.400"><use href="#vid"/></g>
<path d="M857.2 420.7 V427.3 L863.2 424 Z" fill="#1b5264"/>
<g transform="translate(890.00 413.20) scale(1.0000)" stroke-width="1.400"><use href="#spk"/></g>
<g transform="translate(930.30 412.60) scale(1.0000)" stroke-width="1.400"><use href="#doc"/></g>
<text x="770.10" y="456.0" font-size="13.3" font-weight="normal" fill="#d8e0e3" textLength="178.29" lengthAdjust="spacingAndGlyphs">Structured, Semi-structured</text>
<text x="787.90" y="474.0" font-size="13.3" font-weight="normal" fill="#d8e0e3" textLength="143.49" lengthAdjust="spacingAndGlyphs">and Unstructured Data</text>
</svg>
</body></html>
